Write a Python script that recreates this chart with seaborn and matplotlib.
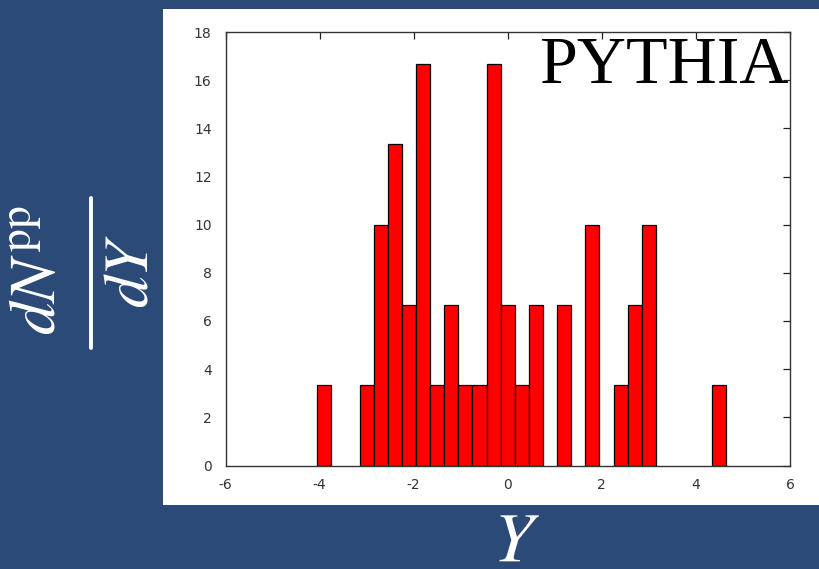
import matplotlib
matplotlib.use("Agg")
import matplotlib.pyplot as plt
from matplotlib.lines import Line2D
import seaborn as sns

# Data
bin_centers = [-3.9, -3.0, -2.7, -2.4, -2.1, -1.8, -1.5, -1.2, -0.9, -0.6,
               -0.3, 0.0, 0.3, 0.6, 1.2, 1.8, 2.4, 2.7, 3.0, 4.5]
dN_dY = [3.333, 3.333, 10.0, 13.333, 6.667, 16.667, 3.333, 6.667, 3.333, 3.333,
         16.667, 6.667, 3.333, 6.667, 6.667, 10.0, 3.333, 6.667, 10.0, 3.333]
x_ticks = [-6, -4, -2, 0, 2, 4, 6]
y_ticks = [0, 2, 4, 6, 8, 10, 12, 14, 16, 18]

sns.set_theme(style="white")
plt.rcParams['font.family'] = ['DejaVu Sans']
plt.rcParams['mathtext.fontset'] = 'stix'

W, H = 819, 569
fig = plt.figure(figsize=(W / 100, H / 100), dpi=100)
fig.patch.set_facecolor('#2b4a77')

# white panel (background axes)
bg = fig.add_axes([163 / W, 1 - 505 / H, 1 - 163 / W, (505 - 9) / H], zorder=0)
bg.set_facecolor('white')
bg.set_xticks([])
bg.set_yticks([])
for s in bg.spines.values():
    s.set_visible(False)

ax = fig.add_axes([225.5 / W, 1 - 465.5 / H, (790 - 225.5) / W, (465.5 - 32) / H],
                  zorder=1)
ax.set_facecolor('white')

sns.barplot(x=bin_centers, y=dN_dY, native_scale=True, width=1.0,
            color='#ff0000', saturation=1, edgecolor='black', linewidth=0.9,
            errorbar=None, ax=ax, zorder=2)

ax.set_xlim(-6, 6)
ax.set_ylim(0, 18)
ax.set_xticks(x_ticks)
ax.set_yticks(y_ticks)
ax.set_xticklabels([str(t) for t in x_ticks])
ax.set_yticklabels([str(t) for t in y_ticks])
ax.tick_params(direction='in', length=5, width=0.9, color='#222222',
               top=True, right=True, labelsize=10, labelcolor='#333333')
ax.tick_params(axis='x', pad=9)
ax.tick_params(axis='y', pad=10)
for s in ax.spines.values():
    s.set_visible(True)
    s.set_color('#333333')
    s.set_linewidth(1.0)
ax.set_xlabel('')
ax.set_ylabel('')

ax.text(0.997, 0.99, 'PYTHIA', transform=ax.transAxes, ha='right', va='top',
        fontsize=49, family=['Liberation Serif'], color='black', zorder=5)

# x label
fig.text(516 / W, 1 - 561 / H, r'$Y$', ha='center', va='baseline',
         fontsize=51, color='white')

# y label as a fraction: numerator, bar, denominator
fig.text(37 / W, 1 - 270 / H, r'$dN^{\mathrm{pp}}$', ha='center', va='center',
         rotation=90, fontsize=47, color='white')
fig.text(130 / W, 1 - 271 / H, r'$dY$', ha='center', va='center',
         rotation=90, fontsize=46, color='white')
fig.add_artist(Line2D([91 / W, 91 / W], [1 - 198 / H, 1 - 348 / H],
                      transform=fig.transFigure, color='white', lw=2.8))

fig.savefig('out.png', dpi=100, facecolor=fig.get_facecolor())
